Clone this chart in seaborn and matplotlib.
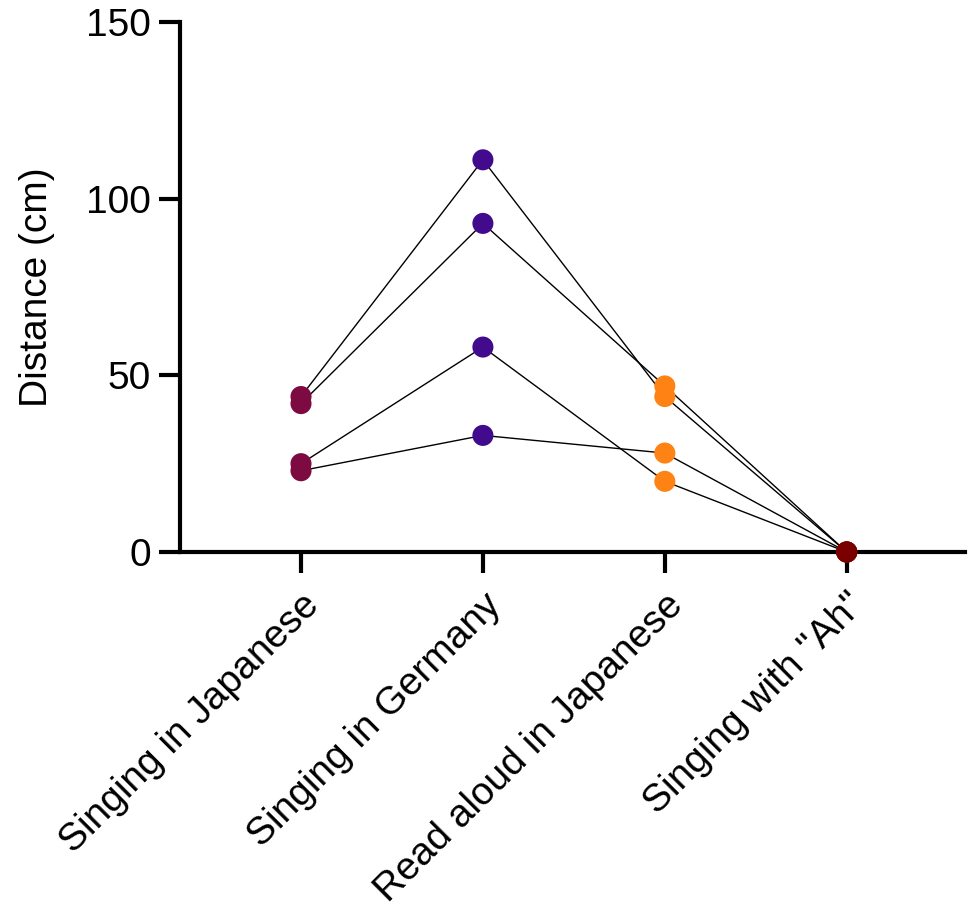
import matplotlib
matplotlib.use("Agg")
import matplotlib.pyplot as plt
import seaborn as sns
import pandas as pd

conditions = ["Singing in Japanese", "Singing in Germany", "Read aloud in Japanese", 'Singing with "Ah"']
subject_a = [44, 111, 44, 0]
subject_b = [42, 93, 47, 0]
subject_c = [25, 58, 20, 0]
subject_d = [23, 33, 28, 0]
subjects = {"A": subject_a, "B": subject_b, "C": subject_c, "D": subject_d}
colors = ["#7E0A42", "#420A8C", "#FF8214", "#7A0000"]

rows = []
for s, vals in subjects.items():
    for c, v in zip(conditions, vals):
        rows.append({"subject": s, "condition": c, "distance": v})
df = pd.DataFrame(rows)
df["pos"] = df["condition"].map({c: i for i, c in enumerate(conditions)})

sns.set_style("ticks")
plt.rcParams["font.family"] = ["Liberation Sans", "DejaVu Sans"]
plt.rcParams["text.color"] = "black"
plt.rcParams["axes.labelcolor"] = "black"
plt.rcParams["xtick.color"] = "black"
plt.rcParams["ytick.color"] = "black"

fig = plt.figure(figsize=(9.71, 9.13), dpi=100)
ax = fig.add_axes([0.1854, 0.3954, 0.8084, 0.5805])

sns.lineplot(data=df, x="pos", y="distance", units="subject", estimator=None,
             color="black", linewidth=1.0, ax=ax, legend=False, zorder=2)
sns.scatterplot(data=df, x="pos", y="distance", hue="condition",
                palette=dict(zip(conditions, colors)), s=230, linewidth=0,
                ax=ax, legend=False, zorder=5, clip_on=False)

ax.set_xlim(-0.665, 3.65)
ax.set_ylim(0, 150)
ax.set_yticks([0, 50, 100, 150])
ax.set_xticks(range(len(conditions)))
ax.set_xticklabels(conditions, rotation=45, ha="right", rotation_mode="anchor", fontsize=28)
ax.set_xlabel("")
ax.set_ylabel("Distance (cm)", fontsize=28, labelpad=22)
ax.tick_params(axis="y", labelsize=28)
ax.tick_params(axis="both", width=3, length=15, labelcolor="black", color="black")
ax.tick_params(axis="y", pad=6)
ax.tick_params(axis="x", pad=10)
for side in ["top", "right"]:
    ax.spines[side].set_visible(False)
for side in ["left", "bottom"]:
    ax.spines[side].set_linewidth(3)
    ax.spines[side].set_color("black")

fig.savefig("out.png", dpi=100)
